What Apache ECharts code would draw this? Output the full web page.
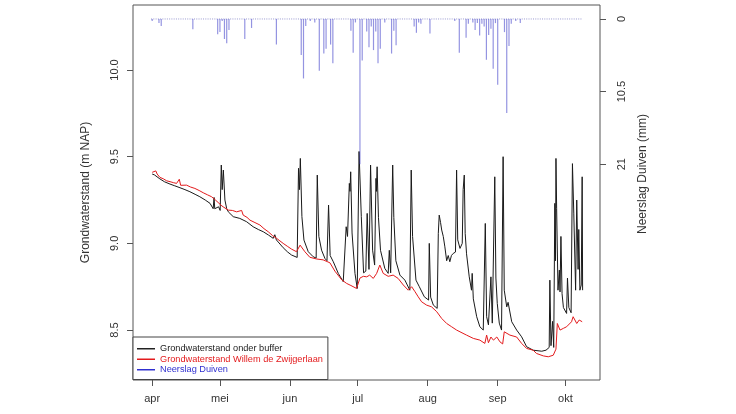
<!DOCTYPE html>
<html>
<head>
<meta charset="utf-8">
<script src="https://cdn.jsdelivr.net/npm/echarts@6/dist/echarts.min.js"></script>
<style>
  html, body { margin: 0; background: #fff; }
  #chart { width: 736px; height: 414px; }
</style>
</head>
<body>
<div id="chart"></div>
<script>
// dagen gerekend vanaf 1 april
const maandDag = [0, 30, 61, 91, 122, 153, 183];
const maandLabels = ["apr", "mei", "jun", "jul", "aug", "sep", "okt"];
const standTicks = [8.5, 9.0, 9.5, 10.0];
const neerslagTicks = [0, 10.5, 21];

// Grondwaterstand onder buffer (m NAP)
const bufferDag = [0, 1, 3.4, 5.5, 7.9, 10, 12.3, 14.5, 16.7, 19, 21.1, 23.5, 25.6, 27.0, 27.4, 27.7, 28.5, 29.4, 30.1, 30.6,
  31.0, 31.5, 32.2, 33.0, 33.7, 35.9, 38.8, 41.8, 44.7, 47, 49.2, 51.5, 53.6, 54.3, 55, 58, 60, 61.7, 64.2, 64.8,
  65.2, 65.6, 66.3, 67.2, 69.1, 71.3, 72.6, 73.1, 73.8, 75, 76.5, 77.4, 78.1, 78.8, 80.2, 82.4, 84.6, 85.4, 85.9, 86.5,
  87.3, 87.6, 87.9, 88.5, 89.8, 90.8, 91.6, 92.6, 93.6, 94.6, 95.2, 96.0, 96.7, 97.6, 98.5, 99.1, 99.3, 99.6, 100.2, 101.1,
  103, 104.5, 105, 105.6, 106.5, 107, 107.9, 109.7, 111.9, 114.1, 114.7, 115.3, 116.8, 118.3, 120.5, 122.4, 122.7, 123.3, 124.5, 126.2,
  126.7, 127.1, 127.7, 128.2, 128.9, 129.6, 130.4, 131.1, 131.8, 132.5, 133.3, 134.3, 134.8, 135.3, 136.3, 137.3, 137.7, 138.2, 138.6, 139.2,
  140.4, 141.4, 141.7, 142.2, 143.7, 145.1, 146.6, 147.5, 148.1, 148.9, 150, 150.6, 151.7, 152.2, 152.8, 153.7, 154.7, 155.4, 155.9, 157,
  157.6, 159.2, 161.4, 163.6, 165.8, 168.7, 172.5, 174.4, 175.8, 176.1, 176.6, 177.3, 177.8, 178.3, 178.6, 178.8, 179.1, 179.7, 180.3, 180.6,
  181, 181.5, 182.1, 183.5, 183.9, 184.5, 185.5, 186.1, 186.7, 187.5, 188, 188.6, 188.9, 189.4, 190.0, 190.4, 190.6];
const bufferStand = [9.40, 9.395, 9.372, 9.355, 9.342, 9.332, 9.321, 9.31, 9.298, 9.283, 9.269, 9.25, 9.231, 9.20, 9.265, 9.20, 9.192, 9.211, 9.19, 9.452,
  9.31, 9.423, 9.25, 9.20, 9.182, 9.154, 9.144, 9.125, 9.096, 9.08, 9.067, 9.048, 9.029, 9.05, 9.02, 8.975, 8.95, 8.933, 8.919, 9.433,
  9.31, 9.49, 9.154, 9.019, 8.952, 8.923, 8.915, 9.394, 9.04, 8.961, 8.913, 8.90, 9.221, 8.93, 8.894, 8.827, 8.779, 8.77, 9.096, 9.04,
  9.346, 9.30, 9.413, 9.06, 8.827, 8.74, 9.53, 9.154, 8.83, 8.84, 9.173, 8.85, 9.452, 8.961, 8.875, 9.375, 9.30, 9.442, 9.15, 8.96,
  8.856, 8.827, 8.96, 8.83, 9.452, 9.15, 8.90, 8.817, 8.788, 8.73, 9.423, 9.04, 8.788, 8.75, 8.692, 8.673, 9.0, 8.69, 8.644, 8.625,
  9.058, 9.163, 9.12, 9.077, 9.04, 8.98, 8.90, 8.93, 8.894, 8.93, 8.942, 8.95, 9.423, 9.02, 8.971, 9.0, 9.31, 9.394, 9.058, 8.94,
  8.807, 8.73, 8.827, 8.68, 8.577, 8.519, 8.50, 9.115, 8.577, 8.53, 8.807, 8.54, 9.384, 8.80, 8.654, 8.54, 8.50, 9.50, 8.73, 8.634,
  8.66, 8.548, 8.50, 8.461, 8.404, 8.384, 8.378, 8.384, 8.40, 8.788, 8.41, 8.55, 8.40, 9.231, 8.9, 9.49, 9.2, 8.73, 8.846, 8.72,
  9.04, 8.71, 8.63, 8.596, 8.80, 8.63, 8.6, 9.46, 9.17, 8.73, 9.25, 8.85, 9.08, 8.73, 8.76, 9.384, 8.73];

// Grondwaterstand Willem de Zwijgerlaan (m NAP)
const zwijgerDag = [0, 0.6, 1.6, 2.2, 3.4, 5, 6.4, 7.9, 9.5, 10.8, 12, 12.6, 15.2, 17, 18.9, 20.8, 22.6, 24.5, 26.3, 28,
  29.2, 30.5, 31.4, 33.7, 35.5, 37.4, 39.6, 40.3, 42, 43.3, 45.5, 47.7, 49.5, 51.4, 53.3, 55.1, 58, 60, 61.7, 63.9,
  65.5, 67.6, 69.8, 72.8, 75.7, 78.7, 80.9, 83.9, 86.1, 88, 90.5, 92, 93.5, 95, 96.3, 97.9, 99.4, 100.8, 102.3, 104.5,
  106.7, 108.9, 111.2, 113.4, 114.9, 116.4, 117.8, 119.3, 121.5, 123.7, 126, 128.2, 130.4, 132.6, 134.8, 136.3, 137, 139.2, 142.2, 145.1,
  147.3, 148.1, 148.9, 150, 151.1, 152.6, 154, 155.2, 155.9, 158.4, 161.4, 163.6, 165.8, 168.7, 170.2, 173.2, 175.4, 177.6, 178.8, 179.4,
  180.6, 182.1, 183.5, 185.7, 186.4, 188, 189.1, 190.4];
const zwijgerStand = [9.41, 9.42, 9.418, 9.40, 9.381, 9.372, 9.361, 9.356, 9.35, 9.346, 9.37, 9.335, 9.336, 9.325, 9.317, 9.305, 9.292, 9.28, 9.269, 9.25,
  9.236, 9.22, 9.211, 9.192, 9.19, 9.182, 9.19, 9.163, 9.15, 9.134, 9.12, 9.106, 9.085, 9.067, 9.045, 9.029, 9.0, 8.982, 8.967, 8.952,
  8.99, 8.952, 8.92, 8.91, 8.905, 8.888, 8.84, 8.79, 8.769, 8.757, 8.74, 8.80, 8.81, 8.807, 8.817, 8.798, 8.827, 8.875, 8.827, 8.81,
  8.817, 8.798, 8.76, 8.73, 8.75, 8.721, 8.692, 8.663, 8.644, 8.634, 8.606, 8.567, 8.538, 8.519, 8.50, 8.49, 8.5, 8.471, 8.452, 8.442,
  8.423, 8.471, 8.427, 8.46, 8.442, 8.46, 8.432, 8.42, 8.49, 8.471, 8.46, 8.423, 8.394, 8.384, 8.365, 8.351, 8.346, 8.355, 8.39, 8.538,
  8.50, 8.51, 8.519, 8.548, 8.577, 8.538, 8.558, 8.548];

// Neerslag Duiven (mm per dag), alleen dagen met neerslag
const neerslagPeriode = [-0.5, 190.5];
const neerslagDag = [0, 3, 4, 18, 29, 30, 31, 32, 33, 34, 41, 44, 55, 66, 67, 68, 70, 72, 74, 76,
  77, 79, 80, 88, 89, 90, 92, 93, 95, 96, 97, 98, 99, 100, 101, 103, 106, 107, 108, 116,
  117, 118, 119, 123, 134, 136, 139, 140, 142, 143, 144, 145, 146, 147, 148, 149, 150, 151, 152, 153,
  156, 157, 158, 159, 161, 163];
const neerslagMm = [0.3, 0.6, 1.0, 1.5, 2.2, 1.9, 0.3, 2.9, 3.5, 1.6, 2.9, 1.3, 3.7, 5.2, 8.6, 1.0, 0.3, 0.5, 7.5, 5.0,
  4.3, 3.7, 6.4, 1.7, 4.9, 0.5, 21.0, 6.0, 1.8, 4.1, 1.1, 4.5, 1.8, 6.4, 4.3, 0.5, 5.0, 1.7, 3.8, 1.1,
  2.0, 0.5, 0.7, 2.1, 0.3, 4.9, 2.7, 0.7, 0.5, 1.6, 0.6, 2.4, 0.7, 1.1, 5.9, 2.3, 1.4, 7.2, 0.6, 9.5,
  1.9, 13.6, 3.9, 0.7, 0.3, 0.6];

const font = '"Liberation Sans", Arial, sans-serif';
const textColor = "#333";

const pairs = (xs, ys) => xs.map((x, i) => [x, ys[i]]);

const chart = echarts.init(document.getElementById("chart"));

chart.setOption({
  animation: false,
  backgroundColor: "#fff",
  textStyle: { fontFamily: font },
  grid: {
    left: 133, top: 5, width: 467, height: 375,
    show: true, borderColor: "#555", borderWidth: 1
  },
  legend: {
    orient: "vertical",
    left: 133, top: 337,
    padding: [6.5, 5, 4.5, 4],
    itemWidth: 18, itemHeight: 1.5, itemGap: 0,
    icon: "rect",
    selectedMode: false,
    borderColor: "#444", borderWidth: 1,
    backgroundColor: "#fff",
    textStyle: { fontSize: 9.2, lineHeight: 10.5, fontFamily: font },
    data: [
      { name: "Grondwaterstand onder buffer", itemStyle: { color: "#222" }, textStyle: { color: "#222" } },
      { name: "Grondwaterstand Willem de Zwijgerlaan", itemStyle: { color: "#e31a1c" }, textStyle: { color: "#e31a1c" } },
      { name: "Neerslag Duiven", itemStyle: { color: "#3030d0" }, textStyle: { color: "#3030d0" } }
    ]
  },
  xAxis: {
    type: "value",
    min: -8.5, max: 198.3,
    splitLine: { show: false },
    axisLine: { show: false, onZero: false },
    axisTick: { show: true, length: 6, customValues: maandDag, lineStyle: { color: "#555" } },
    axisLabel: {
      customValues: maandDag,
      formatter: (v) => maandLabels[maandDag.indexOf(v)],
      margin: 13, fontSize: 11, color: textColor, fontFamily: font
    }
  },
  yAxis: [
    {
      type: "value",
      min: 8.212, max: 10.375,
      splitLine: { show: false },
      axisLine: { show: false, onZero: false },
      axisTick: { show: true, length: 6, customValues: standTicks, lineStyle: { color: "#555" } },
      axisLabel: {
        customValues: standTicks,
        formatter: (v) => v.toFixed(1),
        rotate: 90, margin: 13, fontSize: 11, color: textColor, fontFamily: font
      },
      name: "Grondwaterstand (m NAP)",
      nameLocation: "middle",
      nameGap: 41,
      nameTextStyle: { fontSize: 12, color: textColor, fontFamily: font }
    },
    {
      type: "value",
      position: "right",
      inverse: true,
      min: -2.02, max: 52.2,
      splitLine: { show: false },
      axisLine: { show: false, onZero: false },
      axisTick: { show: true, length: 6, customValues: neerslagTicks, lineStyle: { color: "#555" } },
      axisLabel: {
        customValues: neerslagTicks,
        rotate: 90, margin: 16, fontSize: 11, color: textColor, fontFamily: font
      }
    }
  ],
  graphic: [{
    type: "text",
    x: 643, y: 174,
    rotation: Math.PI / 2,
    style: {
      text: "Neerslag Duiven (mm)",
      fill: textColor,
      fontSize: 12,
      fontFamily: font,
      align: "center",
      verticalAlign: "middle"
    }
  }],
  series: [
    {
      name: "Grondwaterstand onder buffer",
      type: "line",
      data: pairs(bufferDag, bufferStand),
      showSymbol: false, symbol: "none",
      lineStyle: { color: "#1a1a1a", width: 1 },
      itemStyle: { color: "#1a1a1a" },
      z: 2
    },
    {
      name: "Grondwaterstand Willem de Zwijgerlaan",
      type: "line",
      data: pairs(zwijgerDag, zwijgerStand),
      showSymbol: false, symbol: "none",
      lineStyle: { color: "#e31a1c", width: 1 },
      itemStyle: { color: "#e31a1c" },
      z: 3
    },
    {
      name: "nul",
      type: "line",
      yAxisIndex: 1,
      data: neerslagPeriode.map((d) => [d, 0]),
      showSymbol: false, symbol: "none",
      lineStyle: { color: "#9a9ad0", width: 1, type: [1, 1.26] },
      silent: true,
      z: 4
    },
    {
      name: "Neerslag Duiven",
      type: "bar",
      yAxisIndex: 1,
      data: pairs(neerslagDag, neerslagMm),
      barWidth: 1.2,
      itemStyle: { color: "rgba(60,60,200,0.55)" },
      z: 5
    }
  ]
});
</script>
</body>
</html>
